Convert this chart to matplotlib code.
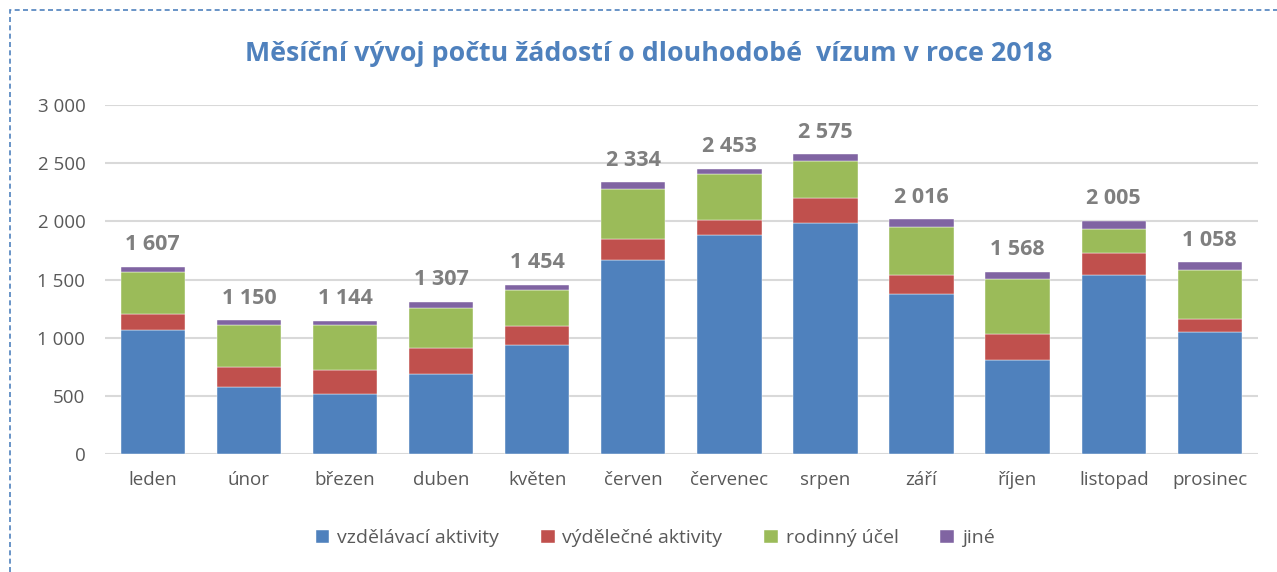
import numpy as np
import matplotlib.pyplot as plt
from matplotlib.patches import Rectangle

plt.rcParams['font.family'] = ['Open Sans', 'DejaVu Sans']

# data
mesice = ['leden', 'únor', 'březen', 'duben', 'květen', 'červen',
          'červenec', 'srpen', 'září', 'říjen', 'listopad', 'prosinec']
vzdelavaci = [1066, 579, 516, 690, 934, 1671, 1880, 1990, 1376, 811, 1539, 1052]
vydelecne = [140, 166, 206, 221, 164, 175, 132, 211, 163, 221, 189, 112]
rodinny = [355, 364, 387, 342, 310, 430, 398, 318, 416, 473, 207, 418]
jine = [46, 41, 35, 54, 46, 58, 43, 56, 61, 63, 70, 66]
popisky = [1607, 1150, 1144, 1307, 1454, 2334, 2453, 2575, 2016, 1568, 2005, 1058]

serie = [('vzdělávací aktivity', vzdelavaci, '#4F81BD'),
         ('výdělečné aktivity', vydelecne, '#C0504D'),
         ('rodinný účel', rodinny, '#9BBB59'),
         ('jiné', jine, '#8064A2')]

def fmt(v):
    return f'{int(v):,}'.replace(',', ' ')

fig = plt.figure(figsize=(12.77, 5.72), dpi=100)
ax = fig.add_axes([0.082, 0.2063, 0.903, 0.6101])

x = np.arange(len(mesice))
bottom = np.zeros(len(mesice))
for name, vals, col in serie:
    ax.bar(x, vals, 0.67, bottom=bottom, color=col, label=name,
           edgecolor='white', linewidth=0.3, zorder=3)
    bottom += np.array(vals)

for xi, top, lab in zip(x, bottom, popisky):
    ax.text(xi, top + 100, fmt(lab), ha='center', va='bottom',
            fontsize=15.5, fontweight='bold', color='#7F7F7F')

ax.set_ylim(0, 3000)
ax.set_xlim(-0.5, len(mesice) - 0.5)
ax.set_yticks(np.arange(0, 3001, 500))
ax.set_yticklabels([fmt(v) for v in np.arange(0, 3001, 500)])
ax.set_xticks(x)
ax.set_xticklabels(mesice)
ax.tick_params(axis='both', length=0, labelsize=13.5, colors='#595959')
ax.tick_params(axis='y', pad=14)
ax.tick_params(axis='x', pad=12)
ax.grid(axis='y', color='#D9D9D9', linewidth=1.5, zorder=0)
for s in ax.spines.values():
    s.set_visible(False)

fig.text(0.508, 0.905, 'Měsíční vývoj počtu žádostí o dlouhodobé  vízum v roce 2018',
         ha='center', va='center', fontsize=19.3, fontweight='bold', color='#4F81BD')

fig.legend(loc='center', bbox_to_anchor=(0.513, 0.059), ncol=4, frameon=False,
           fontsize=14, handlelength=0.7, handleheight=0.7, handletextpad=0.4,
           columnspacing=2.15, labelcolor='#595959')

# dashed frame around the chart
fig.patches.append(Rectangle((10 / 1277, -0.05), 1.2, 1 - 10 / 572 + 0.05,
                             transform=fig.transFigure, fill=False,
                             edgecolor='#4F81BD', linestyle=(0, (3, 2)), linewidth=1.2))

fig.savefig('out.png', dpi=100)
